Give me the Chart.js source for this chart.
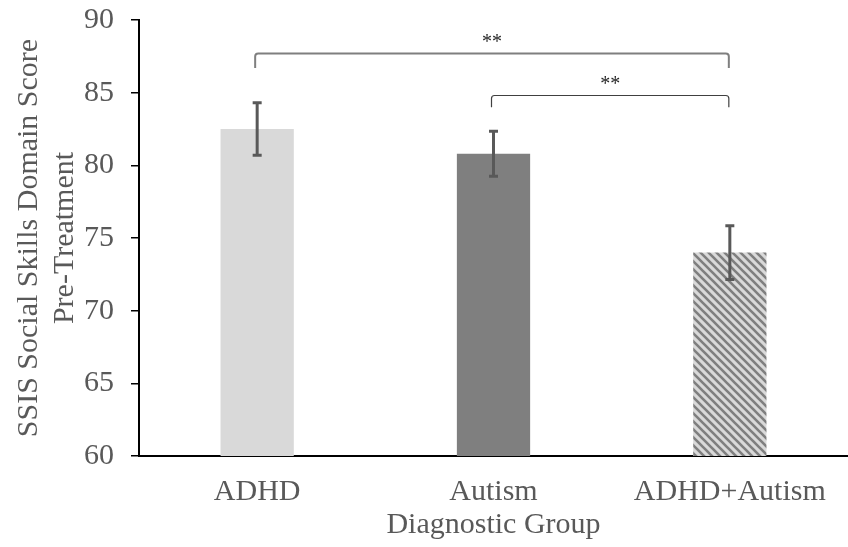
<!DOCTYPE html>
<html>
<head>
<meta charset="utf-8">
<script src="https://cdn.jsdelivr.net/npm/chart.js@4.4.1/dist/chart.umd.min.js"></script>
<style>
  html, body { margin: 0; padding: 0; background: #fff; }
  #wrap { width: 848px; height: 547px; }
</style>
</head>
<body>
<div id="wrap"><canvas id="chart" width="848" height="547"></canvas></div>
<script>
// -------------------------- Data --------------------------
const groups = ['ADHD', 'Autism', 'ADHD+Autism'];
const means = [82.5, 80.8, 74.0];
const errors = [1.8, 1.55, 1.85];
const yTicks = [60, 65, 70, 75, 80, 85, 90];

// significance brackets: [from group, to group], bracket level, end level, label
const bracketPairs = [[0, 2], [1, 2]];
const bracketLevels = [87.75, 84.85];
const bracketEnds = [86.7, 84.0];
const bracketLabels = ['**', '**'];

// -------------------------- Styles --------------------------
const serif = "'Liberation Serif', 'Times New Roman', serif";
const textGrey = '#595959';

// diagonal hatch for the combined group
function makeHatch() {
    const c = document.createElement('canvas');
    c.width = 8; c.height = 8;
    const g = c.getContext('2d');
    g.fillStyle = '#d9d9d9';
    g.fillRect(0, 0, 8, 8);
    g.strokeStyle = '#7f7f7f';
    g.lineWidth = 2.6;
    g.beginPath();
    g.moveTo(-2, -2); g.lineTo(10, 10);
    g.moveTo(-2, 6); g.lineTo(2, 10);
    g.moveTo(6, -2); g.lineTo(10, 2);
    g.stroke();
    return g.createPattern(c, 'repeat');
}
const hatch = makeHatch();

// -------------------------- Plugins --------------------------
const errorBars = {
    id: 'errorBars',
    afterDatasetsDraw(chart) {
        const ctx = chart.ctx;
        const x = chart.scales.x, y = chart.scales.y;
        ctx.save();
        ctx.strokeStyle = '#595959';
        ctx.lineWidth = 3;
        means.forEach((m, i) => {
            const px = x.getPixelForValue(i);
            const top = y.getPixelForValue(m + errors[i]);
            const bot = y.getPixelForValue(m - errors[i]);
            ctx.beginPath();
            ctx.moveTo(px, top); ctx.lineTo(px, bot);
            ctx.moveTo(px - 4.5, top); ctx.lineTo(px + 4.5, top);
            ctx.moveTo(px - 4.5, bot); ctx.lineTo(px + 4.5, bot);
            ctx.stroke();
        });
        ctx.restore();
    }
};

const brackets = {
    id: 'brackets',
    afterDraw(chart) {
        const ctx = chart.ctx;
        const x = chart.scales.x, y = chart.scales.y;
        ctx.save();
        bracketPairs.forEach((p, i) => {
            const x1 = x.getPixelForValue(p[0]) - 2;
            const x2 = x.getPixelForValue(p[1]) - 1;
            const yl = Math.round(y.getPixelForValue(bracketLevels[i])) + 0.5;
            const ye = y.getPixelForValue(bracketEnds[i]);
            ctx.strokeStyle = i === 0 ? '#7f7f7f' : '#404040';
            ctx.lineWidth = i === 0 ? 2 : 1.2;
            ctx.beginPath();
            ctx.moveTo(x1, ye);
            ctx.lineTo(x1, yl + 3);
            ctx.quadraticCurveTo(x1, yl, x1 + 3, yl);
            ctx.lineTo(x2 - 3, yl);
            ctx.quadraticCurveTo(x2, yl, x2, yl + 3);
            ctx.lineTo(x2, ye);
            ctx.stroke();
            ctx.fillStyle = '#262626';
            ctx.font = '20px ' + serif;
            ctx.textAlign = 'center';
            ctx.textBaseline = 'middle';
            ctx.fillText(bracketLabels[i], (x1 + x2) / 2, yl - 11);
        });
        ctx.restore();
    }
};

// -------------------------- Chart --------------------------
const ctx = document.getElementById('chart').getContext('2d');
new Chart(ctx, {
    type: 'bar',
    data: {
        labels: groups,
        datasets: [{
            data: means,
            backgroundColor: ['#d9d9d9', '#7f7f7f', hatch],
            borderWidth: 0,
            barPercentage: 0.62,
            categoryPercentage: 0.5
        }]
    },
    options: {
        responsive: false,
        animation: false,
        layout: { padding: { top: 20, right: 0, left: 0, bottom: 0 } },
        plugins: { legend: { display: false }, tooltip: { enabled: false } },
        scales: {
            x: {
                grid: { display: false },
                border: { display: true, color: '#000', width: 2 },
                ticks: { color: textGrey, font: { family: serif, size: 30 }, padding: 10, maxRotation: 0 },
                title: { display: true, text: 'Diagnostic Group', color: textGrey,
                         font: { family: serif, size: 30, lineHeight: 1.2 }, padding: { top: 0, bottom: 4 } },
                afterFit(s) { s.height = 91; s.paddingLeft = 0; s.paddingRight = 0; }
            },
            y: {
                min: 60, max: 90,
                afterBuildTicks(s) { s.ticks = yTicks.map(v => ({ value: v })); },
                grid: { drawOnChartArea: false, drawTicks: true, tickLength: 8, color: '#000', lineWidth: 1.5 },
                border: { display: true, color: '#000', width: 2 },
                ticks: { color: textGrey, font: { family: serif, size: 30 }, padding: 17 },
                title: { display: true, text: ['SSIS Social Skills Domain Score', 'Pre-Treatment'], color: textGrey,
                         font: { family: serif, size: 30, lineHeight: 1.2 }, padding: { top: 11, bottom: 0 } },
                afterFit(s) { s.width = 139; s.paddingTop = 0; s.paddingBottom = 0; }
            }
        }
    },
    plugins: [errorBars, brackets]
});
</script>
</body>
</html>
